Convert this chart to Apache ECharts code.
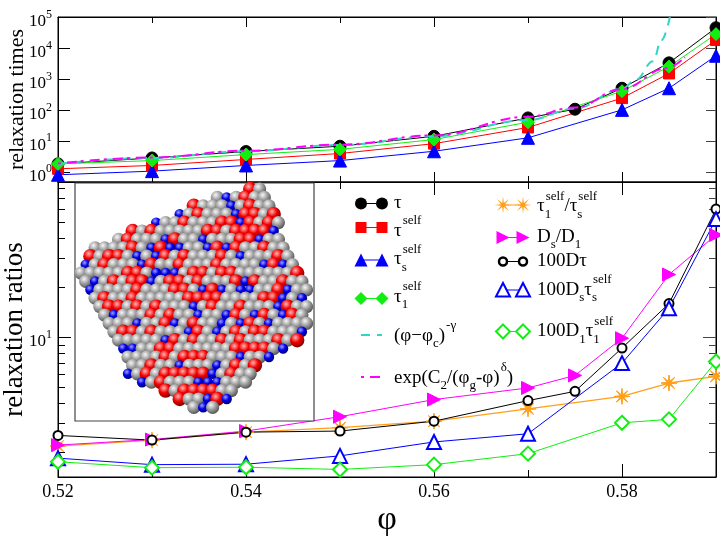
<!DOCTYPE html>
<html>
<head>
<meta charset="utf-8">
<script src="https://cdn.jsdelivr.net/npm/echarts@6/dist/echarts.min.js"></script>
<style>
  html, body { margin: 0; padding: 0; background: #fff; }
  #chart { width: 720px; height: 540px; }
</style>
</head>
<body>
<div id="chart"></div>
<script>
// packing fraction
const phi = [0.52, 0.53, 0.54, 0.55, 0.56, 0.57, 0.575, 0.58, 0.585, 0.59];

// top panel: relaxation times
const tau      = [1.8, 2.8, 4.5, 6.7, 14, 55, 105, 500, 3300, 45000];
const tauSelf  = [1.25, 1.6, 2.5, 3.9, 8.1, 27, null, 240, 1500, 18000];
const tauSSelf = [0.8, 1.05, 1.6, 2.3, 4.6, 12.5, null, 100, 500, 5600];
const tau1Self = [1.8, 2.3, 3.6, 5.3, 11, 40, null, 400, 2500, 28000];

// fits drawn in the top panel
const powPhi = [0.52, 0.53, 0.54, 0.55, 0.56, 0.57, 0.575, 0.58, 0.5815, 0.5833, 0.5842, 0.5851];
const powFit = [1.8, 2.8, 4.6, 7.3, 14, 47, 110, 480, 950, 3700, 18000, 100000];
const expPhi = [0.52, 0.53, 0.54, 0.55, 0.56, 0.57, 0.575, 0.58, 0.5847, 0.5867];
const expFit = [1.85, 2.9, 4.8, 7.5, 15, 60, 120, 470, 2200, 5000];

// bottom panel: relaxation ratios
const ratioTau1S = [2.19, 2.38, 2.66, 2.83, 3.1, 3.68, null, 4.38, 5.28, 5.8];
const ratioDsD1  = [2.22, 2.4, 2.7, 3.3, 4.19, 4.93, 5.87, 9.86, 24, 41.7];
const dTau       = [2.54, 2.38, 2.66, 2.7, 3.1, 4.13, 4.7, 8.6, 16.0, 59.8];
const dsTauS     = [1.85, 1.69, 1.70, 1.91, 2.32, 2.6, null, 6.97, 15.0, 52];
const d1Tau1     = [1.76, 1.62, 1.63, 1.58, 1.69, 1.97, null, 3.03, 3.18, 7.13];

// tick positions (decades)
const timeDecades = [0, 1, 2, 3, 4, 5];
const ratioDecades = [1];
const ratioMinor = [2, 3, 4, 5, 6, 7, 8, 9, 20, 30, 40, 50, 60, 70, 80];

const SERIF = '"Liberation Serif", "DejaVu Serif", serif';
const RED = '#ff0000', BLUE = '#0000ff', GREEN = '#11ee11', CYAN = '#30d5c8',
      MAGENTA = '#ff00ff', ORANGE = '#ff9f1a';

const chart = echarts.init(document.getElementById('chart'));

// both panels are log scaled: plot log10 of the values on value axes
function pts(xs, ys) {
  return xs.map((x, i) => [x, ys[i]])
    .filter(p => p[1] != null)
    .map(p => [p[0], Math.log10(p[1])]);
}

function starPoints(cx, cy, rOut, rIn) {
  const out = [];
  for (let k = 0; k < 16; k++) {
    const a = Math.PI * k / 8 - Math.PI / 2;
    const r = k % 2 ? rIn : rOut;
    out.push([cx + r * Math.cos(a), cy + r * Math.sin(a)]);
  }
  return out;
}
const starSymbol = 'path://' + starPoints(0, 0, 10, 2.4)
  .map((p, k) => (k ? 'L' : 'M') + p[0].toFixed(2) + ',' + p[1].toFixed(2)).join('') + 'Z';
const rightTri = 'path://M0,0L10,5L0,10Z';

function xAx(grid, pos, major, minor, labels) {
  return {
    type: 'value', gridIndex: grid, position: pos,
    min: 0.52, max: 0.59, interval: 0.02,
    axisLine: { show: true, onZero: false, lineStyle: { color: '#000', width: 1 } },
    axisTick: { show: true, inside: true, length: major, lineStyle: { color: '#000' } },
    minorTick: { show: true, splitNumber: 2, length: minor, lineStyle: { color: '#000' } },
    splitLine: { show: false },
    axisLabel: {
      show: labels, showMaxLabel: false, margin: 6,
      color: '#000', fontSize: 18, fontFamily: SERIF
    },
    name: labels ? 'φ' : '', nameLocation: 'middle', nameGap: 26, nameMoveOverlap: false,
    nameTextStyle: { color: '#000', fontSize: 34, fontFamily: SERIF }
  };
}

function yAx(grid, pos, min, max, ticks, len, opts) {
  const o = opts || {};
  return {
    type: 'value', gridIndex: grid, position: pos, min: min, max: max,
    axisLine: { show: o.line !== false, onZero: false, lineStyle: { color: '#000', width: 1 } },
    axisTick: { show: true, inside: true, length: len, customValues: ticks,
                lineStyle: { color: pos === 'right' ? '#444' : '#000' } },
    splitLine: { show: false },
    axisLabel: o.labels ? {
      show: true, customValues: ticks, margin: 6, align: 'right', padding: [9, 0, 0, 0],
      formatter: v => '{b|10}{s|' + Math.round(v) + '}',
      rich: {
        b: { fontSize: 17, fontFamily: SERIF, color: '#000', lineHeight: 26 },
        s: { fontSize: 12, fontFamily: SERIF, color: '#000', lineHeight: 12, verticalAlign: 'top' }
      }
    } : { show: false },
    name: o.name || '', nameLocation: 'middle', nameRotate: 90, nameGap: o.gap || 30,
    nameMoveOverlap: false,
    nameTextStyle: { color: '#000', fontSize: o.nameSize || 22, fontFamily: SERIF }
  };
}

function dataLine(name, xi, yi, data, symbol, size, color, extra) {
  return Object.assign({
    name: name, type: 'line', xAxisIndex: xi, yAxisIndex: yi, data: data,
    symbol: symbol, symbolSize: size, showAllSymbol: true, clip: false,
    lineStyle: { color: color, width: 1 },
    itemStyle: { color: color, borderColor: color, borderWidth: 1 },
    z: 3
  }, extra || {});
}

const topMin = -0.33, topMax = 5;
const botMin = 0.153, botMax = 1.941;

// ---------- legend (drawn by hand, xmgrace style) ----------
const measure = document.createElement('canvas').getContext('2d');
function textWidth(s, size) {
  measure.font = size + 'px ' + SERIF;
  return measure.measureText(s).width;
}
function txt(s, x, y, size) {
  return {
    type: 'text', x: x, y: y, silent: true, z: 7,
    style: {
      text: s, font: size + 'px ' + SERIF, fontSize: size, fontFamily: SERIF, fill: '#000',
      align: 'left', textAlign: 'left', verticalAlign: 'middle', textVerticalAlign: 'middle'
    }
  };
}
// parts: plain strings, or {b: subscript, p: superscript} stacked at the same x
function label(x, y, parts) {
  const out = [];
  let cx = x;
  parts.forEach(p => {
    if (typeof p === 'string') {
      out.push(txt(p, cx, y, 19));
      cx += textWidth(p, 19);
    } else {
      let w = 0;
      if (p.b) { out.push(txt(p.b, cx, y + 8, 13)); w = Math.max(w, textWidth(p.b, 13)); }
      if (p.p) { out.push(txt(p.p, cx + 1, y - 10, 13)); w = Math.max(w, textWidth(p.p, 13) + 1); }
      cx += w;
    }
  });
  return out;
}
function sym(kind, x, y, color) {
  const s = 6.5;
  let el;
  switch (kind) {
    case 'circle': el = { type: 'circle', shape: { cx: x, cy: y, r: 6 }, style: { fill: color } }; break;
    case 'rect': el = { type: 'rect', shape: { x: x - 5.5, y: y - 5.5, width: 11, height: 11 }, style: { fill: color } }; break;
    case 'triangle': el = { type: 'polygon', shape: { points: [[x, y - s], [x + s, y + s], [x - s, y + s]] }, style: { fill: color } }; break;
    case 'diamond': el = { type: 'polygon', shape: { points: [[x, y - s], [x + s, y], [x, y + s], [x - s, y]] }, style: { fill: color } }; break;
    case 'rtri': el = { type: 'polygon', shape: { points: [[x - s, y - s], [x + s, y], [x - s, y + s]] }, style: { fill: color } }; break;
    case 'star': el = { type: 'polygon', shape: { points: starPoints(x, y, 8.5, 2.2) }, style: { fill: color } }; break;
    case 'ocircle': el = { type: 'circle', shape: { cx: x, cy: y, r: 4 }, style: { fill: '#fff', stroke: color, lineWidth: 2.5 } }; break;
    case 'otri': el = { type: 'polygon', shape: { points: [[x, y - 7], [x + 7, y + 6.5], [x - 7, y + 6.5]] }, style: { fill: '#fff', stroke: color, lineWidth: 2 } }; break;
    case 'odiamond': el = { type: 'polygon', shape: { points: [[x, y - 7], [x + 7, y], [x, y + 7], [x - 7, y]] }, style: { fill: '#fff', stroke: color, lineWidth: 2 } }; break;
  }
  el.z = 7;
  el.silent = true;
  return el;
}
function legendRow(x1, x2, y, kind, color) {
  return [
    { type: 'line', z: 7, silent: true, shape: { x1: x1, y1: y, x2: x2, y2: y }, style: { stroke: color, lineWidth: 1 } },
    sym(kind, x1, y, color), sym(kind, x2, y, color)
  ];
}
function legendDash(x1, x2, y, color, dash, width) {
  return [{ type: 'line', z: 7, silent: true, shape: { x1: x1, y1: y, x2: x2, y2: y },
            style: { stroke: color, lineWidth: width, lineDash: dash } }];
}

const legendEls = [].concat(
  legendRow(361, 382, 203.5, 'circle', '#000'),
  label(394, 203, ['τ']),
  legendRow(361, 382, 227.5, 'rect', RED),
  label(394, 231, ['τ', { p: 'self' }]),
  legendRow(361, 382, 260, 'triangle', BLUE),
  label(394, 259.5, ['τ', { b: 's', p: 'self' }]),
  legendRow(361, 382, 298.5, 'diamond', GREEN),
  label(394, 297, ['τ', { b: '1', p: 'self' }]),
  legendDash(361, 382, 335, CYAN, [9, 7], 2),
  label(394, 336, ['(φ−φ', { b: 'c' }, ')', { p: '-γ' }]),
  legendDash(361, 382, 377, MAGENTA, [3, 6, 10, 4], 2),
  label(394, 378, ['exp(C', { b: '2' }, '/(φ', { b: 'g' }, '-φ)', { p: 'δ' }, ')']),

  legendRow(503, 523, 205, 'star', ORANGE),
  label(537, 206.5, ['τ', { b: '1', p: 'self' }, '/τ', { b: 's', p: 'self' }]),
  legendRow(503, 523, 237.5, 'rtri', MAGENTA),
  label(537, 237, ['D', { b: 's' }, '/D', { b: '1' }]),
  legendRow(503, 523, 261.5, 'ocircle', '#000'),
  label(537, 261.5, ['100Dτ']),
  legendRow(503, 523, 290, 'otri', BLUE),
  label(537, 290, ['100D', { b: 's' }, 'τ', { b: 's', p: 'self' }]),
  legendRow(503, 523, 331.5, 'odiamond', GREEN),
  label(537, 331.5, ['100D', { b: '1' }, 'τ', { b: '1', p: 'self' }])
);

// ---------- inset: packed sphere configuration ----------
const cubeEdge = [[78,263],[85,250],[110,243],[127,231],[147,225],[167,218],[193,205],[220,196],
  [243,190],[260,185],[273,198],[277,218],[293,261],[307,288],[312,326],[300,341],[273,355],
  [247,385],[220,408],[207,413],[187,405],[160,391],[130,381],[113,338],[97,311],[83,281]];
function inside(x, y, poly) {
  let c = false;
  for (let i = 0, j = poly.length - 1; i < poly.length; j = i++) {
    const xi = poly[i][0], yi = poly[i][1], xj = poly[j][0], yj = poly[j][1];
    if (((yi > y) !== (yj > y)) && (x < (xj - xi) * (y - yi) / (yj - yi) + xi)) c = !c;
  }
  return c;
}
const shades = {
  gray: ['#f6f6f6', '#a2a2a2', '#464646'],
  red: ['#ffb4b4', '#f40000', '#6a0000'],
  blue: ['#a0a0ff', '#0000ee', '#000058']
};
function sphere(x, y, r, c) {
  return {
    type: 'circle', silent: true, z: 6, shape: { cx: x, cy: y, r: r },
    style: { fill: { type: 'radial', x: 0.38, y: 0.32, r: 0.75, colorStops: [
      { offset: 0, color: c[0] }, { offset: 0.45, color: c[1] }, { offset: 1, color: c[2] }] } }
  };
}
const spheres = [];
for (let j = 0; j < 28; j++) {
  const y = 189 + j * 8.4;
  for (let i = 0; i < 27; i++) {
    const x = 81 + i * 9.4 + (j % 2) * 4.7;
    if (!inside(x, y, cubeEdge)) continue;
    let h = Math.imul(i + 31, 0x9E3779B1) ^ Math.imul(j + 17, 0x85EBCA77);
    h ^= h >>> 13; h = Math.imul(h, 0xC2B2AE3D); h ^= h >>> 16;
    const k = (h >>> 0) % 100;
    if (k < 27) spheres.push(sphere(x, y, 7.2, shades.red));
    else if (k < 43) spheres.push(sphere(x, y, 5.2, shades.blue));
    else spheres.push(sphere(x, y, 6.6, shades.gray));
  }
}

const option = {
  animation: false,
  backgroundColor: '#fff',
  grid: [
    { left: 58, top: 17, width: 658, height: 165, show: true, borderColor: '#000', borderWidth: 1,
      containLabel: false, outerBoundsMode: 'none' },
    { left: 58, top: 182, width: 658, height: 295, show: true, borderColor: '#000', borderWidth: 1,
      containLabel: false, outerBoundsMode: 'none' }
  ],
  xAxis: [
    xAx(0, 'bottom', 10, 6, false),
    xAx(0, 'top', 10, 6, false),
    xAx(1, 'bottom', 13, 7, true),
    xAx(1, 'top', 13, 7, false)
  ],
  yAxis: [
    yAx(0, 'left', topMin, topMax, timeDecades, 12, { labels: true, name: 'relaxation times', gap: 30, nameSize: 22 }),
    yAx(0, 'right', topMin, topMax, timeDecades, 10),
    yAx(1, 'left', botMin, botMax, ratioDecades, 13, { labels: true, name: 'relaxation ratios', gap: 30, nameSize: 27 }),
    yAx(1, 'right', botMin, botMax, ratioDecades, 13),
    yAx(1, 'left', botMin, botMax, ratioMinor.map(Math.log10), 7, { line: false }),
    yAx(1, 'right', botMin, botMax, ratioMinor.map(Math.log10), 7, { line: false })
  ],
  series: [
    dataLine('τ', 0, 0, pts(phi, tau), 'circle', 12, '#000'),
    dataLine('τ self', 0, 0, pts(phi, tauSelf), 'rect', 11, RED),
    dataLine('τs self', 0, 0, pts(phi, tauSSelf), 'triangle', 13, BLUE),
    dataLine('τ1 self', 0, 0, pts(phi, tau1Self), 'diamond', 13, GREEN),
    {
      name: '(φ-φc)^-γ', type: 'line', xAxisIndex: 0, yAxisIndex: 0, data: pts(powPhi, powFit),
      showSymbol: false, smooth: 0.4, smoothMonotone: 'x', clip: true, z: 4,
      lineStyle: { color: CYAN, width: 2, type: [9, 7] }
    },
    {
      name: 'exp(C2/(φg-φ)^δ)', type: 'line', xAxisIndex: 0, yAxisIndex: 0, data: pts(expPhi, expFit),
      showSymbol: false, smooth: 0.4, smoothMonotone: 'x', clip: true, z: 4,
      lineStyle: { color: MAGENTA, width: 2, type: [3, 6, 10, 4] }
    },

    dataLine('τ1/τs', 2, 2, pts(phi, ratioTau1S), starSymbol, 16, ORANGE, { lineStyle: { color: ORANGE, width: 1.3 } }),
    dataLine('Ds/D1', 2, 2, pts(phi, ratioDsD1), rightTri, 13, MAGENTA),
    dataLine('100Dτ', 2, 2, pts(phi, dTau), 'emptyCircle', 9, '#000',
      { itemStyle: { color: '#000', borderColor: '#000', borderWidth: 2.5 } }),
    dataLine('100Ds τs', 2, 2, pts(phi, dsTauS), 'emptyTriangle', 14, BLUE,
      { itemStyle: { color: BLUE, borderColor: BLUE, borderWidth: 2 } }),
    dataLine('100D1 τ1', 2, 2, pts(phi, d1Tau1), 'emptyDiamond', 14, GREEN,
      { itemStyle: { color: GREEN, borderColor: GREEN, borderWidth: 2 } })
  ],
  graphic: {
    elements: [
      { type: 'rect', silent: true, shape: { x: 75, y: 183, width: 239, height: 238 },
        style: { fill: '#fff', stroke: '#444', lineWidth: 1.2 }, z: 5 },
      { type: 'group', silent: true, children: spheres },
      { type: 'group', silent: true, children: legendEls }
    ]
  }
};

chart.setOption(option);
</script>
</body>
</html>
